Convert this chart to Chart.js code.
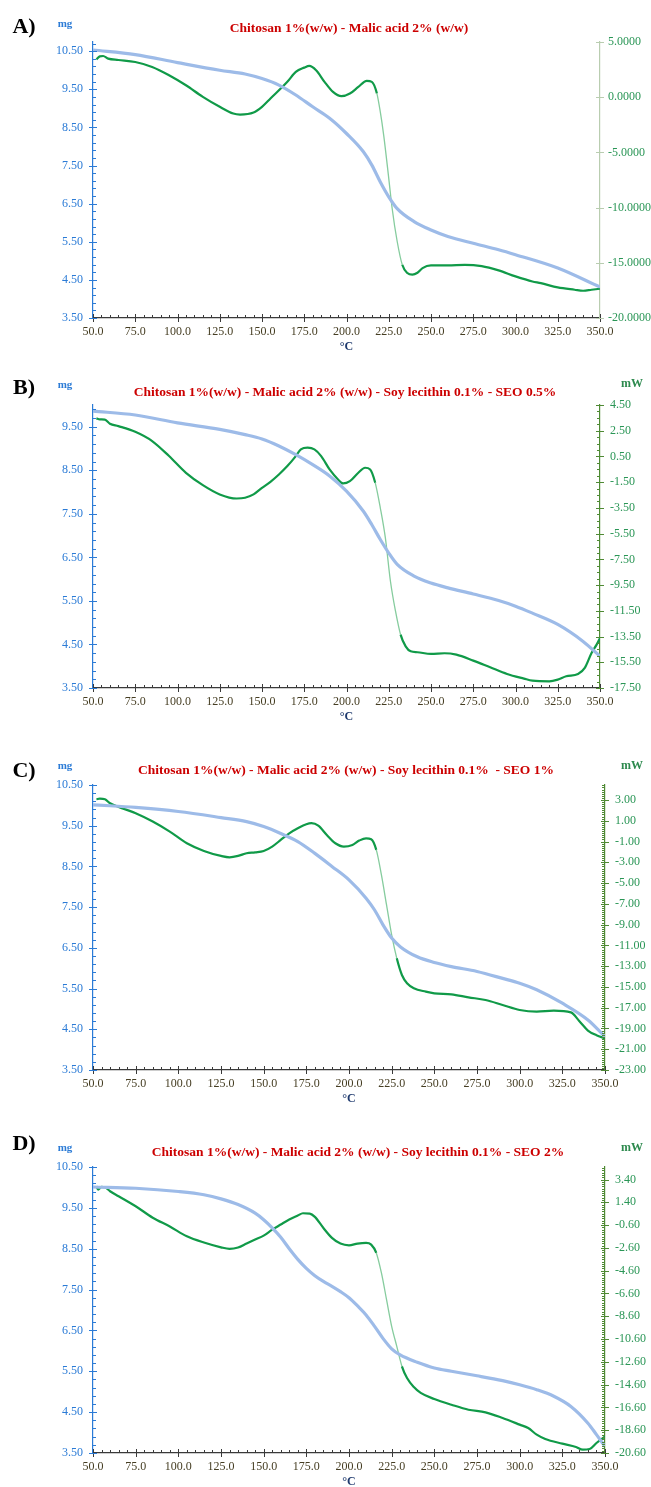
<!DOCTYPE html>
<html>
<head>
<meta charset="utf-8">
<script src="https://cdn.jsdelivr.net/npm/chart.js@4.4.0/dist/chart.umd.min.js"></script>
<style>
  html, body { margin: 0; padding: 0; background: #fff; overflow: hidden; }
  #page { position: relative; width: 651px; height: 1487px; font-family: 'Liberation Serif', 'Times New Roman', serif; }
  .panel { position: absolute; left: 0; }
  .lbl { position: absolute; transform: translate(-50%, -50%); white-space: pre; font-weight: bold; }
  .letter { font-size: 22px; color: #000; }
  .mg { font-size: 11px; color: #2b7bd6; }
  .mw { font-size: 12px; color: #2d8a4e; }
  .title { font-size: 13.5px; color: #cc0000; }
</style>
</head>
<body>
<div id="page"></div>
<script>
// ================== TICKS ==================
const tempTicks = [50, 75, 100, 125, 150, 175, 200, 225, 250, 275, 300, 325, 350];
const massTicks = [3.5, 4.5, 5.5, 6.5, 7.5, 8.5, 9.5, 10.5];
const massTicksB = [3.5, 4.5, 5.5, 6.5, 7.5, 8.5, 9.5];
const heatTicksA = [-20, -15, -10, -5, 0, 5];
const heatTicksB = [-17.5, -15.5, -13.5, -11.5, -9.5, -7.5, -5.5, -3.5, -1.5, 0.5, 2.5, 4.5];
const heatTicksC = [-23, -21, -19, -17, -15, -13, -11, -9, -7, -5, -3, -1, 1, 3];
const heatTicksD = [-20.6, -18.6, -16.6, -14.6, -12.6, -10.6, -8.6, -6.6, -4.6, -2.6, -0.6, 1.4, 3.4];

// ================== DATA (temperature °C, mass mg, heat flow mW) ==================
// A) Chitosan 1% - Malic acid 2%
const aMassT = [50, 75, 100, 125, 140, 150, 160, 170, 180, 190, 200, 210, 215, 220, 225, 230, 240, 250, 260, 275, 290, 300, 325, 350];
const aMass = [10.53, 10.41, 10.20, 10.00, 9.90, 9.78, 9.61, 9.35, 9.04, 8.74, 8.34, 7.86, 7.51, 7.07, 6.68, 6.37, 6.03, 5.81, 5.64, 5.46, 5.29, 5.16, 4.81, 4.31];
const aHeatT = [52, 54, 56, 59, 65, 75, 85, 95, 105, 115, 125, 133, 137, 145, 150, 155, 165, 170, 175, 178, 182, 187, 192, 197, 202, 207, 212, 215, 218, 220, 222, 225, 227, 230, 233, 236, 239, 242, 245, 250, 260, 270, 280, 290, 300, 310, 315, 325, 335, 340, 345, 350];
const aHeat = [3.43, 3.70, 3.73, 3.49, 3.37, 3.19, 2.74, 1.99, 1.08, 0.03, -0.87, -1.48, -1.57, -1.39, -0.87, -0.12, 1.39, 2.29, 2.68, 2.83, 2.44, 1.39, 0.48, 0.09, 0.33, 0.93, 1.48, 1.39, 0.33, -1.33, -3.43, -7.35, -10.06, -13.07, -15.18, -15.93, -16.08, -15.90, -15.48, -15.24, -15.24, -15.18, -15.30, -15.69, -16.23, -16.69, -16.84, -17.23, -17.44, -17.53, -17.44, -17.35];

// B) + Soy lecithin 0.1% - SEO 0.5%
const bMassT = [50, 75, 100, 125, 140, 150, 160, 170, 180, 190, 200, 210, 215, 220, 225, 230, 240, 250, 260, 275, 290, 300, 310, 325, 340, 350];
const bMass = [9.86, 9.77, 9.59, 9.44, 9.32, 9.22, 9.06, 8.86, 8.63, 8.37, 8.02, 7.56, 7.25, 6.91, 6.60, 6.34, 6.07, 5.91, 5.80, 5.66, 5.51, 5.38, 5.22, 4.96, 4.57, 4.23];
const bHeatT = [52, 54, 57, 60, 65, 75, 85, 95, 105, 115, 125, 135, 140, 145, 150, 155, 160, 165, 170, 173, 177, 181, 185, 190, 195, 198, 202, 207, 211, 214, 217, 220, 223, 226, 229, 232, 235, 238, 242, 250, 258, 265, 275, 285, 295, 305, 310, 320, 325, 330, 337, 341, 345, 348, 350];
const bHeat = [3.46, 3.38, 3.36, 3.04, 2.86, 2.42, 1.70, 0.53, -0.77, -1.73, -2.45, -2.77, -2.71, -2.45, -1.94, -1.47, -0.90, -0.25, 0.53, 1.05, 1.18, 1.05, 0.53, -0.51, -1.29, -1.60, -1.42, -0.77, -0.38, -0.51, -1.55, -3.49, -5.83, -9.20, -11.53, -13.35, -14.26, -14.65, -14.72, -14.85, -14.80, -14.91, -15.37, -15.89, -16.41, -16.77, -16.93, -16.98, -16.85, -16.59, -16.41, -15.94, -14.78, -14.13, -13.61];

// C) + Soy lecithin 0.1% - SEO 1%
const cMassT = [50, 60, 75, 100, 125, 140, 150, 160, 170, 180, 190, 200, 210, 215, 220, 225, 230, 240, 250, 260, 275, 290, 300, 310, 325, 340, 350];
const cMass = [10.01, 9.99, 9.95, 9.85, 9.70, 9.60, 9.48, 9.31, 9.11, 8.82, 8.50, 8.17, 7.72, 7.43, 7.06, 6.74, 6.53, 6.28, 6.14, 6.04, 5.92, 5.75, 5.63, 5.47, 5.14, 4.73, 4.32];
const cHeatT = [52, 54, 57, 60, 65, 75, 85, 95, 105, 115, 125, 130, 135, 140, 145, 150, 155, 160, 165, 170, 175, 178, 182, 187, 192, 197, 202, 206, 210, 213, 216, 219, 222, 225, 228, 231, 234, 238, 245, 250, 260, 270, 280, 290, 300, 310, 320, 330, 335, 340, 345, 350];
const cHeat = [3.07, 3.13, 3.07, 2.68, 2.33, 1.72, 0.92, -0.05, -1.17, -1.91, -2.39, -2.52, -2.39, -2.13, -2.04, -1.91, -1.49, -0.85, -0.21, 0.27, 0.66, 0.76, 0.53, -0.37, -1.17, -1.49, -1.33, -0.91, -0.69, -0.78, -1.81, -4.22, -7.11, -10.00, -12.25, -13.85, -14.65, -15.13, -15.46, -15.62, -15.71, -16.00, -16.26, -16.74, -17.22, -17.38, -17.29, -17.45, -18.30, -19.20, -19.65, -19.95];

// D) + Soy lecithin 0.1% - SEO 2%
const dMassT = [50, 75, 100, 115, 125, 135, 145, 150, 155, 160, 165, 170, 175, 180, 185, 190, 195, 200, 205, 210, 215, 220, 225, 230, 240, 250, 260, 275, 290, 300, 310, 320, 330, 340, 345, 350];
const dMass = [10.01, 9.98, 9.90, 9.82, 9.72, 9.58, 9.37, 9.21, 9.01, 8.78, 8.50, 8.24, 8.02, 7.84, 7.70, 7.58, 7.45, 7.30, 7.10, 6.88, 6.60, 6.30, 6.05, 5.90, 5.72, 5.58, 5.50, 5.39, 5.27, 5.17, 5.05, 4.89, 4.64, 4.23, 3.95, 3.66];
const dHeatT = [52, 53, 55, 57, 60, 65, 75, 85, 95, 105, 115, 125, 130, 135, 140, 145, 150, 155, 160, 165, 170, 173, 177, 180, 185, 190, 195, 200, 205, 210, 213, 216, 219, 222, 225, 228, 231, 234, 238, 242, 250, 260, 270, 280, 290, 300, 305, 310, 315, 325, 333, 337, 341, 345, 350];
const dHeat = [2.81, 2.52, 2.75, 2.72, 2.37, 1.93, 1.06, 0.05, -0.72, -1.58, -2.13, -2.55, -2.69, -2.57, -2.22, -1.87, -1.52, -1.00, -0.55, -0.11, 0.24, 0.44, 0.41, 0.12, -0.85, -1.72, -2.22, -2.37, -2.22, -2.16, -2.31, -3.04, -4.80, -7.14, -9.48, -11.24, -12.99, -14.02, -14.81, -15.33, -15.86, -16.36, -16.80, -17.03, -17.53, -18.11, -18.41, -18.99, -19.37, -19.78, -20.07, -20.31, -20.25, -19.72, -19.14];

// ================== STYLE ==================
const BLUE = '#2b7bd6';
const MASS_LINE = '#9dbbe8';
const HEAT_LINE = '#109a48';
const HEAT_STEEP = '#86cc9e';
const HEAT_LABEL = '#2a9656';
const XLABEL = '#453d22';
const FONT = "'Liberation Serif', 'Times New Roman', serif";

// --- PANEL LAYOUT (page coordinates) ---
const panels = [
    { letter: 'A)', top: 0, height: 360, area: { top: 42, bottom: 318, left: 93, right: 600 },
      massT: aMassT, mass: aMass, heatT: aHeatT, heat: aHeat,
      massMax: 10.74, massTicks: massTicks, heatMin: -20, heatMax: 5, heatTicks: heatTicksA, heatMinor: null, heatDigits: 4, heatAxis: '#b9cdb0', heatPad: 4,
      title: 'Chitosan 1%(w/w) - Malic acid 2% (w/w)', titleX: 349, titleY: 28, letterY: 26, mgY: 23, mwY: null },
    { letter: 'B)', top: 360, height: 365, area: { top: 405, bottom: 688, left: 93, right: 600 },
      massT: bMassT, mass: bMass, heatT: bHeatT, heat: bHeat,
      massMax: 10.0, massTicks: massTicksB, heatMin: -17.5, heatMax: 4.5, heatTicks: heatTicksB, heatMinor: 0.5, heatDigits: 2, heatAxis: '#4f8a34', heatPad: 6,
      title: 'Chitosan 1%(w/w) - Malic acid 2% (w/w) - Soy lecithin 0.1% - SEO 0.5%', titleX: 345, titleY: 392, letterY: 387, mgY: 384, mwY: 383 },
    { letter: 'C)', top: 725, height: 385, area: { top: 785, bottom: 1070, left: 93, right: 605 },
      massT: cMassT, mass: cMass, heatT: cHeatT, heat: cHeat,
      massMax: 10.5, massTicks: massTicks, heatMin: -23, heatMax: 4.44, heatTicks: heatTicksC, heatMinor: 0.2, heatDigits: 2, heatAxis: '#4f8a34', heatPad: 6,
      title: 'Chitosan 1%(w/w) - Malic acid 2% (w/w) - Soy lecithin 0.1%  - SEO 1%', titleX: 346, titleY: 770, letterY: 770, mgY: 765, mwY: 765 },
    { letter: 'D)', top: 1110, height: 380, area: { top: 1167, bottom: 1453, left: 93, right: 605 },
      massT: dMassT, mass: dMass, heatT: dHeatT, heat: dHeat,
      massMax: 10.5, massTicks: massTicks, heatMin: -20.6, heatMax: 4.5, heatTicks: heatTicksD, heatMinor: 0.2, heatDigits: 2, heatAxis: '#4f8a34', heatPad: 6,
      title: 'Chitosan 1%(w/w) - Malic acid 2% (w/w) - Soy lecithin 0.1% - SEO 2%', titleX: 358, titleY: 1152, letterY: 1143, mgY: 1147, mwY: 1147 }
];

const X_AXIS_H = 36;
const WIDTH = 651;

// major ticks plus minor ticks every `step` between min and max
function buildTicks(major, step, min, max) {
    const r = v => Math.round(v * 100) / 100;
    const isMain = v => major.some(m => Math.abs(m - v) < 1e-6);
    if (!step) return major.map(v => ({ value: v, main: true }));
    const out = [];
    for (let k = 0; ; k++) {
        const v = r(min + k * step);
        if (v > max + 1e-6) break;
        out.push({ value: v, main: isMain(v) });
    }
    return out;
}

// draws axis tick marks: main ticks cross the axis line, minor ones point inwards
const axisMarks = {
    id: 'axisMarks',
    afterDatasetsDraw(chart) {
        const ctx = chart.ctx;
        Object.values(chart.scales).forEach(s => {
            ctx.save();
            ctx.strokeStyle = s.options.border.color;
            ctx.lineWidth = 1;
            ctx.beginPath();
            s.ticks.forEach((t, i) => {
                const p = Math.round(s.getPixelForTick(i)) + 0.5;
                const out = t.main ? 4 : 0;
                const inn = t.main ? 4 : 3;
                if (s.isHorizontal()) {
                    ctx.moveTo(p, s.top - inn); ctx.lineTo(p, s.top + out);
                } else if (s.position === 'left') {
                    ctx.moveTo(s.right - out, p); ctx.lineTo(s.right + inn, p);
                } else {
                    ctx.moveTo(s.left - inn, p); ctx.lineTo(s.left + out, p);
                }
            });
            ctx.stroke();
            ctx.restore();
        });
    }
};

const steep = c => Math.abs(c.p1.y - c.p0.y) > 3.5 * Math.abs(c.p1.x - c.p0.x);

function addText(cls, text, x, y) {
    const el = document.createElement('div');
    el.className = 'lbl ' + cls;
    el.textContent = text;
    el.style.left = x + 'px';
    el.style.top = y + 'px';
    document.getElementById('page').appendChild(el);
}

function createPanel(p) {
    const wrap = document.createElement('div');
    wrap.className = 'panel';
    wrap.style.top = p.top + 'px';
    const canvas = document.createElement('canvas');
    canvas.width = WIDTH;
    canvas.height = p.height;
    canvas.style.width = WIDTH + 'px';
    canvas.style.height = p.height + 'px';
    wrap.appendChild(canvas);
    document.getElementById('page').appendChild(wrap);

    addText('letter', p.letter, 24, p.letterY);
    addText('mg', 'mg', 65, p.mgY);
    if (p.mwY) addText('mw', 'mW', 632, p.mwY);
    addText('title', p.title, p.titleX, p.titleY);

    const gridOff = { display: true, drawOnChartArea: false, drawTicks: true, tickLength: 4, tickColor: 'rgba(0,0,0,0)' };
    const label = (digits) => function (value, index, ticks) {
        return ticks[index].main ? Number(value).toFixed(digits) : '';
    };

    return new Chart(canvas, {
        type: 'line',
        data: {
            datasets: [
                {
                    data: p.massT.map((t, i) => ({ x: t, y: p.mass[i] })),
                    yAxisID: 'y',
                    borderColor: MASS_LINE,
                    borderWidth: 3.2,
                    pointRadius: 0,
                    cubicInterpolationMode: 'monotone'
                },
                {
                    data: p.heatT.map((t, i) => ({ x: t, y: p.heat[i] })),
                    yAxisID: 'y1',
                    borderColor: HEAT_LINE,
                    borderWidth: 2.2,
                    pointRadius: 0,
                    cubicInterpolationMode: 'monotone',
                    segment: {
                        borderColor: c => steep(c) ? HEAT_STEEP : HEAT_LINE,
                        borderWidth: c => steep(c) ? 1.3 : 2.2
                    }
                }
            ]
        },
        options: {
            responsive: false,
            animation: false,
            layout: { padding: { top: p.area.top - p.top, bottom: p.top + p.height - p.area.bottom - X_AXIS_H, left: 0, right: 0 } },
            plugins: { legend: { display: false }, tooltip: { enabled: false }, title: { display: false } },
            scales: {
                x: {
                    type: 'linear', position: 'bottom', min: 50, max: 350,
                    afterBuildTicks: s => { s.ticks = buildTicks(tempTicks, 5, 50, 350); },
                    afterFit: s => { s.height = X_AXIS_H; },
                    grid: gridOff,
                    border: { display: true, color: '#3a3a3a', width: 1.2 },
                    ticks: { autoSkip: false, maxRotation: 0, padding: 3, color: XLABEL, font: { family: FONT, size: 12 }, callback: label(1) },
                    title: { display: true, text: '°C', color: '#1f3a6e', padding: 0, font: { family: FONT, size: 12, weight: 'bold' } }
                },
                y: {
                    type: 'linear', position: 'left', min: 3.5, max: p.massMax,
                    afterBuildTicks: s => { s.ticks = buildTicks(p.massTicks, 0.2, 3.5, p.massMax); },
                    afterFit: s => { s.width = p.area.left; },
                    grid: gridOff,
                    border: { display: true, color: BLUE, width: 1.2 },
                    ticks: { autoSkip: false, padding: 6, color: BLUE, font: { family: FONT, size: 12 }, callback: label(2) }
                },
                y1: {
                    type: 'linear', position: 'right', min: p.heatMin, max: p.heatMax,
                    afterBuildTicks: s => { s.ticks = buildTicks(p.heatTicks, p.heatMinor, p.heatMin, p.heatMax); },
                    afterFit: s => { s.width = WIDTH - p.area.right; },
                    grid: gridOff,
                    border: { display: true, color: p.heatAxis, width: 1.2 },
                    ticks: { autoSkip: false, padding: p.heatPad, color: HEAT_LABEL, font: { family: FONT, size: 12 }, callback: label(p.heatDigits) }
                }
            }
        },
        plugins: [axisMarks]
    });
}

document.addEventListener('DOMContentLoaded', () => {
    panels.forEach(createPanel);
});
</script>
</body>
</html>
